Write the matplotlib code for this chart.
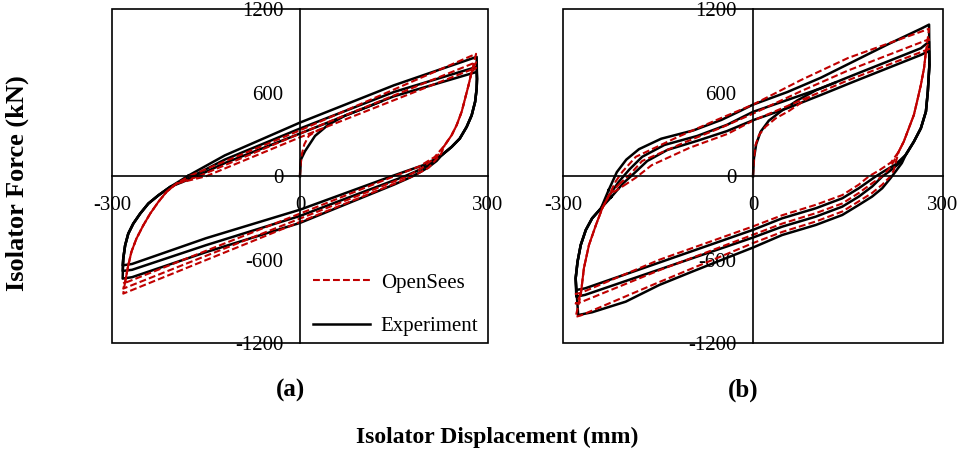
import matplotlib
matplotlib.use("Agg")
import matplotlib.pyplot as plt
from matplotlib.patches import Rectangle
from matplotlib.lines import Line2D

plt.rcParams['font.family'] = ['Liberation Serif', 'DejaVu Serif']

# axis ticks
x_ticks = [-300, 0, 300]
x_tick_labels = ["-300", "0", "300"]
y_ticks = [-1200, -600, 0, 600, 1200]
y_tick_labels = ["-1200", "-600", "0", "600", "1200"]

# ---------- panel (a) : displacement (mm), force (kN) ----------
exp_a_first = [(0, 0), (1.5, 120), (8, 180), (24, 290), (45, 370), (72, 436), (109, 500), (130, 539)]
exp_a_upper = [
    [(-178, 5), (-120, 150), (0, 386), (150, 654), (282, 858)],
    [(-172, 0), (-120, 120), (0, 343), (150, 606), (282, 786)],
    [(-165, 0), (-120, 95), (0, 307), (150, 575), (282, 750)],
]
exp_a_unload = [(282.5, 700), (282, 630), (279.5, 535), (274, 438), (266, 355), (255, 271), (242, 211), (226, 151)]
exp_a_lower = [
    [(200, 85), (146, 0), (0, -240), (-150, -445), (-268, -630), (-283, -640)],
    [(205, 80), (185, 35), (167, 0), (0, -285), (-150, -495), (-268, -672), (-283, -680)],
    [(218, 110), (205, 65), (190, 25), (175, -10), (150, -60), (0, -335), (-150, -545),
     (-268, -725), (-283, -735)],
]
exp_a_reload = [(-282, -591), (-279, -496), (-274, -412), (-266, -340), (-255, -268),
                (-242, -196), (-226, -137), (-207, -76)]

ops_a_first = [(0, 0), (1, 80), (3, 160), (7, 230), (14, 290), (24, 320), (35, 342)]
ops_a_upper = [
    [(-175, 5), (0, 330), (281, 880)],
    [(-162, 0), (0, 307), (281, 820)],
    [(-150, 0), (0, 280), (281, 780)],
]
ops_a_unload = [(274, 750), (269, 654), (263.5, 558), (258, 463), (250, 367), (242, 295), (231, 223)]
ops_a_lower = [
    [(215, 139), (190, 70), (150, 0), (0, -268), (-282, -771)],
    [(220, 150), (195, 60), (171, 0), (0, -304), (-282, -807)],
    [(225, 160), (205, 60), (180, 0), (0, -328), (-282, -843)],
]
ops_a_reload = [(-279, -759), (-274, -640), (-269, -543), (-261, -448), (-250, -352),
                (-239, -268), (-226, -184), (-213, -112), (-197, -52)]

# ---------- panel (b) ----------
exp_b_first = [(0, 0), (1.5, 130), (5, 230), (12, 320), (25, 400), (45, 470), (70, 545), (100, 620), (130, 674)]
exp_b_upper = [
    [(-228, -100), (-215, 30), (-200, 120), (-180, 195), (-145, 270), (-94, 330), (-50, 405), (-20, 470),
     (0, 515), (54, 605), (107, 708), (159, 826), (212, 946), (265, 1060), (278, 1090)],
    [(-226, -130), (-212, -40), (-195, 50), (-175, 140), (-140, 225), (-88, 290), (-41, 370),
     (0, 463), (54, 548), (107, 632), (159, 728), (212, 824), (265, 920), (278, 968)],
    [(-224, -150), (-205, -50), (-188, 20), (-167, 110), (-135, 190), (-88, 255), (-41, 325),
     (0, 403), (54, 489), (107, 584), (159, 680), (212, 776), (265, 872), (278, 900)],
]
exp_b_unload = [(278.5, 800), (276, 609), (273, 465), (265, 345), (254, 249), (241, 153)]
exp_b_lower = [
    [(225, 85), (210, 45), (194, 0), (167, -86), (141, -158), (99, -230), (46, -302), (0, -385),
     (-148, -620), (-265, -805), (-279, -817)],
    [(230, 90), (218, 45), (204, -2), (188, -74), (167, -146), (141, -218), (99, -290), (46, -362),
     (0, -440), (-148, -670), (-265, -852), (-279, -865)],
    [(235, 95), (226, 40), (217, -14), (204, -86), (188, -146), (167, -206), (141, -278), (99, -350),
     (46, -422), (0, -512), (-43, -589), (-96, -685), (-148, -781), (-201, -901), (-254, -977), (-276, -997)],
]
exp_b_reload = [(-280, -733), (-277, -613), (-272, -494), (-264, -386), (-254, -302), (-240, -230)]

ops_b_first = [(0, 0), (1.6, 129), (4, 225), (9.5, 297), (20, 357), (36, 417), (57, 470), (90, 572)]
ops_b_upper = [
    [(-217, -38), (-206, 34), (-185, 140), (-120, 280), (-60, 400), (0, 515), (75, 690), (150, 850), (278, 1060)],
    [(-212, -60), (-195, 10), (-175, 110), (-110, 240), (-50, 350), (0, 450), (75, 610), (150, 760), (278, 985)],
    [(-205, -70), (-185, -10), (-160, 80), (-100, 205), (-40, 305), (0, 400), (75, 545), (150, 690), (278, 915)],
]
ops_b_unload = [(273, 896), (270, 776), (265, 656), (259, 537), (254, 441), (246, 345), (238, 249), (230, 177)]
ops_b_lower = [
    [(218, 100), (200, 45), (183, 0), (167, -60), (141, -135), (99, -205), (46, -280), (0, -360),
     (-148, -600), (-272, -838), (-280, -845)],
    [(222, 105), (214, 50), (204, 0), (188, -50), (167, -120), (141, -195), (99, -265), (46, -340),
     (0, -420), (-148, -675), (-272, -905), (-280, -915)],
    [(226, 110), (222, 40), (217, 0), (204, -60), (188, -120), (167, -180), (141, -253), (99, -325),
     (46, -400), (0, -480), (-148, -760), (-272, -1000), (-280, -1010)],
]
ops_b_reload = [(-272, -853), (-267, -661), (-259, -494), (-248, -350), (-238, -230), (-227, -134)]

RED = "#C00000"
exp_style = dict(color="black", lw=1.8, solid_joinstyle="round")
ops_style = dict(color=RED, lw=1.5, linestyle=(0, (3.3, 1.5)))


def draw_loops(ax, first, uppers, unload, lowers, reload, style):
    ax.plot(*zip(*first), **style)
    for up, low in zip(uppers, lowers):
        path = up + unload + low + reload + [up[0]]
        ax.plot(*zip(*path), **style)


def setup_axes(ax):
    ax.set_xlim(-300, 300)
    ax.set_ylim(-1200, 1200)
    for side in ["top", "right"]:
        ax.spines[side].set_visible(False)
    ax.spines["left"].set_position(("data", 0))
    ax.spines["bottom"].set_position(("data", 0))
    ax.spines["left"].set_linewidth(1.2)
    ax.spines["bottom"].set_linewidth(1.2)
    ax.add_patch(Rectangle((0, 0), 1, 1, transform=ax.transAxes, fill=False,
                           ec="black", lw=1.2, clip_on=False, zorder=3))
    ax.set_xticks(x_ticks)
    ax.set_xticklabels(x_tick_labels)
    ax.set_yticks(y_ticks)
    ax.set_yticklabels(y_tick_labels)
    ax.tick_params(axis="y", length=0, labelsize=15, pad=12)
    ax.tick_params(axis="x", length=0, labelsize=15, pad=14)


fig = plt.figure(figsize=(9.67, 4.51), dpi=100)
ax_a = fig.add_axes([0.1158, 0.2388, 0.3888, 0.7406])
ax_b = fig.add_axes([0.5822, 0.2388, 0.3930, 0.7406])

draw_loops(ax_a, exp_a_first, exp_a_upper, exp_a_unload, exp_a_lower, exp_a_reload, exp_style)
draw_loops(ax_a, ops_a_first, ops_a_upper, ops_a_unload, ops_a_lower, ops_a_reload, ops_style)
draw_loops(ax_b, exp_b_first, exp_b_upper, exp_b_unload, exp_b_lower, exp_b_reload, exp_style)
draw_loops(ax_b, ops_b_first, ops_b_upper, ops_b_unload, ops_b_lower, ops_b_reload, ops_style)

setup_axes(ax_a)
setup_axes(ax_b)

handles = [Line2D([], [], **ops_style), Line2D([], [], **exp_style)]
ax_a.legend(handles, ["OpenSees", "Experiment"], loc="upper left", bbox_to_anchor=(0.5346, 0.2105),
            frameon=False, fontsize=15, borderpad=0, borderaxespad=0,
            handlelength=2.75, handletextpad=0.5, labelspacing=1.14)

fig.text(0.300, 0.135, "(a)", ha="center", va="center", fontsize=18, fontweight="bold")
fig.text(0.769, 0.135, "(b)", ha="center", va="center", fontsize=18, fontweight="bold")
fig.text(0.514, 0.031, "Isolator Displacement (mm)", ha="center", va="center", fontsize=17, fontweight="bold")
fig.text(0.018, 0.594, "Isolator Force (kN)", ha="center", va="center", rotation=90,
         fontsize=19, fontweight="bold")

fig.savefig("out.png", dpi=100)
